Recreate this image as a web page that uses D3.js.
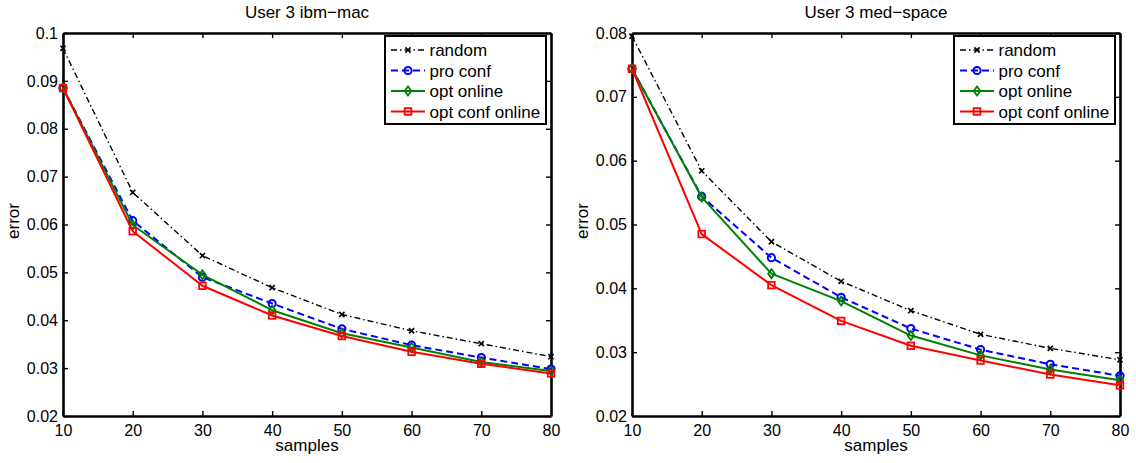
<!DOCTYPE html>
<html>
<head>
<meta charset="utf-8">
<script src="https://cdn.jsdelivr.net/npm/d3@7"></script>
<style>
  html, body { margin: 0; padding: 0; background: #fff; }
  svg text { font-family: "Liberation Sans", Arial, Helvetica, sans-serif; fill: #000; }
</style>
</head>
<body>
<svg id="chart" width="1136" height="463"></svg>
<script>
// Number of samples (x axis), shared by both panels
const samples = [10, 20, 30, 40, 50, 60, 70, 80];
const xTicks = [10, 20, 30, 40, 50, 60, 70, 80];

// Panel 1: User 3 ibm-mac
const randomIbm        = [0.0968, 0.0667, 0.0535, 0.0468, 0.0412, 0.0378, 0.0351, 0.0324];
const proConfIbm       = [0.0885, 0.0608, 0.0490, 0.0435, 0.0382, 0.0348, 0.0322, 0.0298];
const optOnlineIbm     = [0.0885, 0.0599, 0.0495, 0.0421, 0.0373, 0.0343, 0.0313, 0.0294];
const optConfOnlineIbm = [0.0885, 0.0586, 0.0472, 0.0410, 0.0367, 0.0334, 0.0309, 0.0289];
const yTicksIbm = [0.02, 0.03, 0.04, 0.05, 0.06, 0.07, 0.08, 0.09, 0.1];

// Panel 2: User 3 med-space
const randomMed        = [0.0795, 0.0584, 0.0473, 0.0411, 0.0365, 0.0328, 0.0306, 0.0288];
const proConfMed       = [0.0744, 0.0544, 0.0448, 0.0386, 0.0337, 0.0304, 0.0281, 0.0263];
const optOnlineMed     = [0.0744, 0.0543, 0.0423, 0.0380, 0.0326, 0.0295, 0.0273, 0.0256];
const optConfOnlineMed = [0.0744, 0.0485, 0.0405, 0.0349, 0.0310, 0.0287, 0.0265, 0.0248];
const yTicksMed = [0.02, 0.03, 0.04, 0.05, 0.06, 0.07];
const yTicksMedAll = [0.02, 0.03, 0.04, 0.05, 0.06, 0.07, 0.08];

const seriesNames = ["random", "pro conf", "opt online", "opt conf online"];

// Visual style per series
const styles = [
  { color: "#000000", width: 1.4, dash: "6,3,1.5,3", marker: "x" },
  { color: "#0000ff", width: 2,   dash: "7,4",       marker: "circle" },
  { color: "#008000", width: 2,   dash: null,        marker: "diamond" },
  { color: "#ff0000", width: 2,   dash: null,        marker: "square" }
];

const svg = d3.select("#chart");
svg.append("rect").attr("width", 1136).attr("height", 463).attr("fill", "#fff");

function drawMarker(g, type, cx, cy, color) {
  if (type === "x") {
    const s = 2.6;
    g.append("path")
      .attr("d", `M${cx - s},${cy - s}L${cx + s},${cy + s}M${cx - s},${cy + s}L${cx + s},${cy - s}`)
      .attr("stroke", color).attr("stroke-width", 1.6).attr("fill", "none");
  } else if (type === "circle") {
    g.append("circle").attr("cx", cx).attr("cy", cy).attr("r", 3.6)
      .attr("stroke", color).attr("stroke-width", 2).attr("fill", "none");
  } else if (type === "diamond") {
    g.append("path")
      .attr("d", `M${cx},${cy - 4.5}L${cx + 3.3},${cy}L${cx},${cy + 4.5}L${cx - 3.3},${cy}Z`)
      .attr("stroke", color).attr("stroke-width", 1.8).attr("fill", "none");
  } else if (type === "square") {
    g.append("rect").attr("x", cx - 3.3).attr("y", cy - 3.3).attr("width", 6.6).attr("height", 6.6)
      .attr("stroke", color).attr("stroke-width", 1.8).attr("fill", "none");
  }
}

function fmt(v) { return String(+v.toFixed(2)); }

function panel(opts) {
  const { left, right, top, bottom, yDomain, yTicks, yTickMarks, title, series, errorX } = opts;
  const g = svg.append("g");
  const x = d3.scaleLinear().domain([10, 80]).range([left, right]);
  const y = d3.scaleLinear().domain(yDomain).range([bottom, top]);

  // Axes box with inward ticks on all four sides
  const axisStyle = sel => {
    sel.select(".domain").attr("stroke", "#000").attr("stroke-width", 2.6);
    sel.selectAll(".tick line").attr("stroke", "#000").attr("stroke-width", 1.4);
    sel.selectAll("text").attr("font-size", 16).attr("fill", "#000");
  };

  g.append("g").attr("transform", `translate(0,${bottom})`)
    .call(d3.axisBottom(x).tickValues(xTicks).tickFormat(d3.format("d"))
      .tickSizeInner(-5).tickSizeOuter(0).tickPadding(8.6))
    .call(axisStyle);
  g.append("g").attr("transform", `translate(0,${top})`)
    .call(d3.axisTop(x).tickValues(xTicks).tickFormat("")
      .tickSizeInner(-5).tickSizeOuter(0))
    .call(axisStyle);
  g.append("g").attr("transform", `translate(${left},0)`)
    .call(d3.axisLeft(y).tickValues(yTicks).tickFormat(fmt)
      .tickSizeInner(-5).tickSizeOuter(0).tickPadding(5))
    .call(axisStyle);
  g.append("g").attr("transform", `translate(${right},0)`)
    .call(d3.axisRight(y).tickValues(yTickMarks).tickFormat("")
      .tickSizeInner(-5).tickSizeOuter(0))
    .call(axisStyle);

  // Title and axis labels
  g.append("text").attr("x", (left + right) / 2).attr("y", 18)
    .attr("text-anchor", "middle").attr("font-size", 17).text(title);
  g.append("text").attr("x", (left + right) / 2).attr("y", 451)
    .attr("text-anchor", "middle").attr("font-size", 17).text("samples");
  g.append("text")
    .attr("transform", `translate(${errorX},221) rotate(-90)`)
    .attr("text-anchor", "middle").attr("font-size", 17).text("error");

  // Series lines and markers
  const line = d3.line().x((d, i) => x(samples[i])).y(d => y(d));
  series.forEach((vals, k) => {
    const st = styles[k];
    const sg = g.append("g");
    sg.append("path").datum(vals).attr("d", line)
      .attr("fill", "none").attr("stroke", st.color).attr("stroke-width", st.width)
      .attr("stroke-dasharray", st.dash).attr("stroke-linejoin", "round");
    vals.forEach((v, i) => drawMarker(sg, st.marker, x(samples[i]), y(v), st.color));
  });

  // Legend box, anchored to the upper-right corner
  const lw = 161, lh = 88;
  const lx = right - 5 - lw, ly = top + 3;
  const lg = g.append("g");
  lg.append("rect").attr("x", lx).attr("y", ly).attr("width", lw).attr("height", lh)
    .attr("fill", "#fff").attr("stroke", "#000").attr("stroke-width", 2);
  seriesNames.forEach((name, k) => {
    const st = styles[k];
    const ry = ly + 14 + k * 20.5;
    lg.append("line").attr("x1", lx + 6).attr("x2", lx + 40).attr("y1", ry).attr("y2", ry)
      .attr("stroke", st.color).attr("stroke-width", st.width)
      .attr("stroke-dasharray", st.dash);
    drawMarker(lg, st.marker, lx + 23, ry, st.color);
    lg.append("text").attr("x", lx + 44.5).attr("y", ry + 6)
      .attr("font-size", 17).text(name);
  });
}

panel({
  left: 63, right: 551, top: 33, bottom: 416,
  yDomain: [0.02, 0.1], yTicks: yTicksIbm, yTickMarks: yTicksIbm,
  title: "User 3 ibm\u2212mac",
  series: [randomIbm, proConfIbm, optOnlineIbm, optConfOnlineIbm],
  errorX: 18.5
});

panel({
  left: 632, right: 1120, top: 33, bottom: 416,
  yDomain: [0.02, 0.08], yTicks: yTicksMedAll, yTickMarks: yTicksMedAll,
  title: "User 3 med\u2212space",
  series: [randomMed, proConfMed, optOnlineMed, optConfOnlineMed],
  errorX: 588
});
</script>
</body>
</html>
